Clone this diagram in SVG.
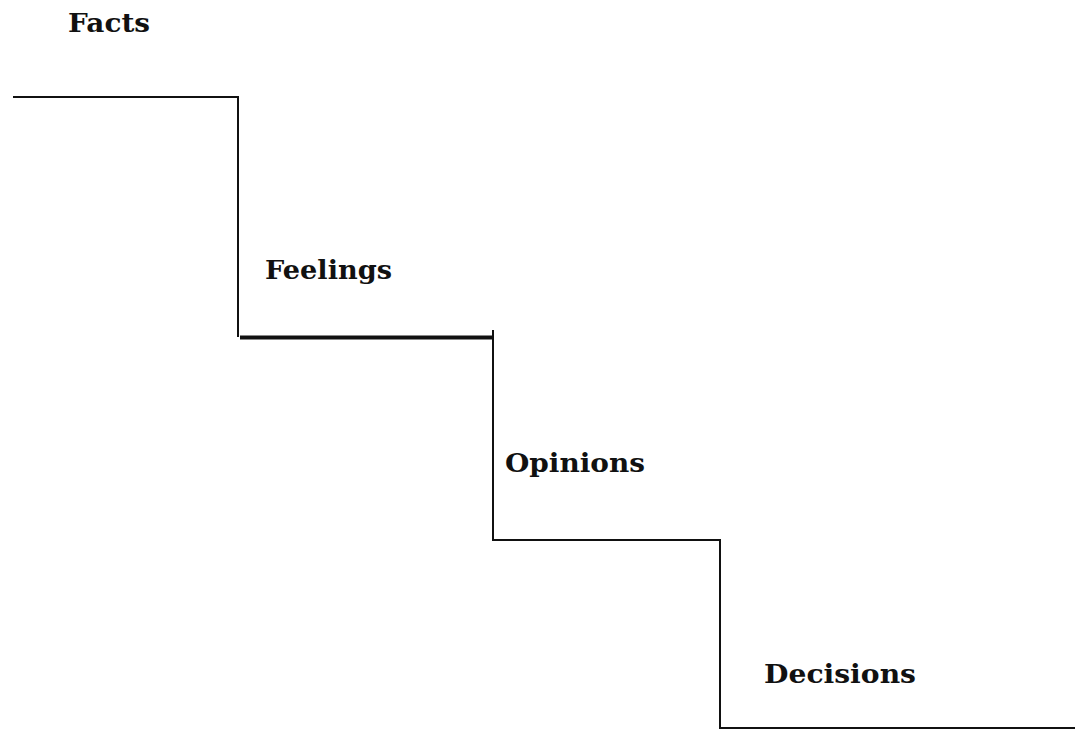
<svg xmlns="http://www.w3.org/2000/svg" width="1075" height="731" viewBox="0 0 1075 731">
<style>
.lbl{font-family:"DejaVu Serif","Liberation Serif",serif;font-weight:bold;font-size:26px;fill:#111}
.step{fill:none;stroke:#111;stroke-width:2}
</style>
<rect width="1075" height="731" fill="#fff"/>
<g id="connectors">
<path class="step" d="M13,97 H238 V337"/>
<path d="M240,337.5 H493" stroke="#111" stroke-width="4" fill="none"/>
<path class="step" d="M493,330 V540 H720 V728 H1075"/>
</g>
<g id="facts"><text class="lbl" x="68" y="32" textLength="82" lengthAdjust="spacingAndGlyphs">Facts</text></g>
<g id="feelings"><text class="lbl" x="265" y="279" textLength="127" lengthAdjust="spacingAndGlyphs">Feelings</text></g>
<g id="opinions"><text class="lbl" x="505" y="472" textLength="140" lengthAdjust="spacingAndGlyphs">Opinions</text></g>
<g id="decisions"><text class="lbl" x="764" y="683" textLength="152" lengthAdjust="spacingAndGlyphs">Decisions</text></g>
</svg>
